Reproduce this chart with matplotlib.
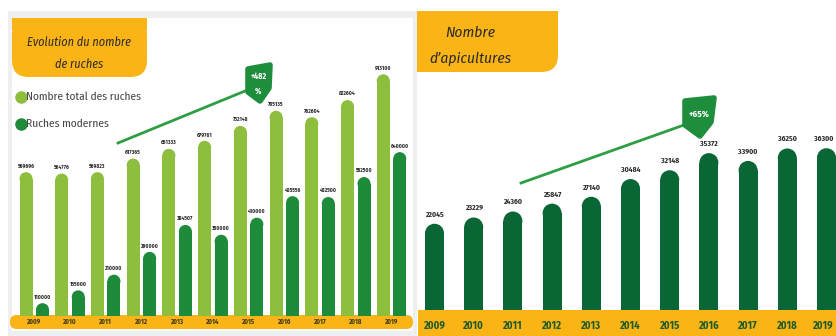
import matplotlib
matplotlib.use("Agg")
import matplotlib.pyplot as plt
from matplotlib.patches import Rectangle, Ellipse, FancyBboxPatch, Polygon
from matplotlib.lines import Line2D
from matplotlib import font_manager as fm
import logging
logging.getLogger('matplotlib.font_manager').setLevel(logging.ERROR)

# ---------------- data ----------------
years = ["2009", "2010", "2011", "2012", "2013", "2014", "2015", "2016", "2017", "2018", "2019"]
ruches_total = [569696, 564776, 569823, 617365, 651333, 679761, 732148, 785135, 762604, 822604, 913100]
ruches_modernes = [110000, 155000, 210000, 290000, 384507, 350000, 410000, 485556, 482500, 552500, 640000]
apicultures = [22045, 23229, 24360, 25847, 27140, 30484, 32148, 35372, 33900, 36250, 36300]
left_title = ["Evolution du nombre", "de ruches"]
right_title = ["Nombre", "d\u2019apicultures"]
legend_labels = ["Nombre total des ruches", "Ruches modernes"]
badge_left = ["+482", "%"]
badge_right = "+65%"

W, H = 836, 336

# ---- choose a narrow font if available ----
avail = {(f.name, f.style) for f in fm.fontManager.ttflist}
names = {n for n, s in avail}
cands = ["Fira Sans Condensed", "PT Sans Narrow", "Archivo Narrow", "Asap Condensed",
         "Roboto Condensed", "Open Sans Condensed", "IBM Plex Sans Condensed",
         "Liberation Sans Narrow", "Roboto"]
FAM = next((c for c in cands if c in names), "DejaVu Sans")
FAM_IT = next((c for c in cands if (c, "italic") in avail), FAM)
plt.rcParams['font.family'] = [FAM, 'DejaVu Sans']

ORANGE = "#FBB416"
LIGHT = "#8DBE3E"
MID = "#1E8B3B"
DARK = "#0B6636"
GRAY = "#EFEFEF"
TXT = "#2b2b2b"

fig = plt.figure(figsize=(W / 100, H / 100), dpi=100)
fig.patch.set_facecolor("white")
renderer = fig.canvas.get_renderer()


def fx(x):
    return x / W


def fy(y):
    return 1 - y / H


def fit(t, target, cap):
    bb = t.get_window_extent(renderer)
    s = min(cap, t.get_fontsize() * target / max(bb.width, 1e-6))
    t.set_fontsize(s)
    return s


def frect(x0, y0, x1, y1, **kw):
    fig.patches.append(Rectangle((fx(x0), fy(y1)), fx(x1 - x0), (y1 - y0) / H,
                                 transform=fig.transFigure, **kw))


def fround(x0, y0, x1, y1, pad, **kw):
    p = FancyBboxPatch((fx(x0), fy(y1)), fx(x1 - x0), (y1 - y0) / H,
                       boxstyle=f"round,pad=0,rounding_size={pad}",
                       mutation_aspect=W / H, transform=fig.transFigure, **kw)
    fig.patches.append(p)


# ---- backgrounds ----
frect(8, 11, 417, 336, facecolor=GRAY, edgecolor="none", zorder=0)
frect(12, 18, 413, 331, facecolor="white", edgecolor="none", zorder=0)

fround(12, 18, 147, 77, 0.02, facecolor=ORANGE, edgecolor="none", zorder=1)
frect(12, 18, 147, 30, facecolor=ORANGE, edgecolor="none", zorder=1)
fround(417, 11, 558, 72, 0.02, facecolor=ORANGE, edgecolor="none", zorder=1)
frect(417, 11, 558, 30, facecolor=ORANGE, edgecolor="none", zorder=1)
frect(417, 11, 440, 72, facecolor=ORANGE, edgecolor="none", zorder=1)

fround(10, 315, 413, 329, 0.008, facecolor=ORANGE, edgecolor="none", zorder=1)
frect(418, 310, 836, 336, facecolor=ORANGE, edgecolor="none", zorder=1)

# ---- titles ----
t1 = fig.text(fx(79), fy(42), left_title[0], ha="center", va="center", fontsize=10,
              style="italic", family=[FAM_IT, 'DejaVu Sans'], color=TXT, zorder=5)
s = fit(t1, 104, 12)
fig.text(fx(79), fy(64), left_title[1], ha="center", va="center", fontsize=s,
         style="italic", family=[FAM_IT, 'DejaVu Sans'], color=TXT, zorder=5)
t2 = fig.text(fx(470), fy(59), right_title[1], ha="center", va="center", fontsize=12,
              style="italic", family=[FAM_IT, 'DejaVu Sans'], color=TXT, zorder=5)
s = fit(t2, 82, 13)
fig.text(fx(470), fy(33), right_title[0], ha="center", va="center", fontsize=s,
         style="italic", family=[FAM_IT, 'DejaVu Sans'], color=TXT, zorder=5)

# ---- legend ----
leg = []
for yy, col, lab in [(97, LIGHT, legend_labels[0]), (124, MID, legend_labels[1])]:
    fig.lines.append(Line2D([fx(21)], [fy(yy)], marker="o", markersize=8, color=col,
                            transform=fig.transFigure, zorder=5))
    leg.append(fig.text(fx(26.5), fy(yy), lab, ha="left", va="center", fontsize=9,
                        color="#444444", zorder=5))
s = fit(leg[0], 116, 11)
leg[1].set_fontsize(s)


# ---------------- helper for rounded bars ----------------
def rounded_bars(ax, xs, vals, width, w_px, px_per_val, color, bottom):
    r = (w_px / 2) / px_per_val
    heights = [v - r - bottom for v in vals]
    ax.bar(xs, heights, width=width, bottom=bottom, color=color, linewidth=0, zorder=2)
    for x, v in zip(xs, vals):
        ax.add_patch(Ellipse((x, v - r), width, 2 * r, facecolor=color, edgecolor="none", zorder=2))


# ---------------- left chart ----------------
L_unit = 35.725
L_a = 0.000285
L_bottom = 65000
axL = fig.add_axes([fx(12), (H - 316) / H, fx(401), (316 - 18) / H])
axL.set_zorder(2)
axL.patch.set_visible(False)
axL.set_xlim(-(34.25 - 12) / L_unit, 10 + (413 - 391.5) / L_unit)
axL.set_ylim(L_bottom, L_bottom + 298 / L_a)
axL.axis("off")
idx = list(range(len(years)))
off = 8.25 / L_unit
wL = 13 / L_unit
xs_t = [i - off for i in idx]
xs_m = [i + off for i in idx]
rounded_bars(axL, xs_t, ruches_total, wL, 13, L_a, LIGHT, L_bottom)
rounded_bars(axL, xs_m, ruches_modernes, wL, 13, L_a, MID, L_bottom)
probe = fig.text(0, 0, str(ruches_total[0]), fontsize=5, fontweight="bold")
sv = fit(probe, 17, 6.5)
probe.remove()
for x, v in zip(xs_t + xs_m, ruches_total + ruches_modernes):
    axL.annotate(str(v), (x, v), xytext=(0, 2.5), textcoords="offset points",
                 ha="center", va="bottom", fontsize=sv,
                 color=TXT, fontweight="bold", zorder=4)
probe = fig.text(0, 0, years[0], fontsize=5, fontweight="bold")
sy = fit(probe, 14, 6.5)
probe.remove()
for i, y in zip(idx, years):
    fig.text(fx(34.25 + L_unit * i), fy(322), y, ha="center", va="center",
             fontsize=sy, color="#3a3a1a", fontweight="bold", zorder=5)

# ---------------- right chart ----------------
R_unit = 39.2
R_a = 0.0053
R_bottom = 5772
axR = fig.add_axes([fx(417), (H - 310) / H, fx(419), (310 - 11) / H])
axR.set_zorder(2)
axR.patch.set_visible(False)
axR.set_xlim(-(434.5 - 417) / R_unit, 10 + (836 - 826.5) / R_unit)
axR.set_ylim(R_bottom, R_bottom + 299 / R_a)
axR.axis("off")
wR = 19 / R_unit
rounded_bars(axR, idx, apicultures, wR, 19, R_a, DARK, R_bottom)
probe = fig.text(0, 0, str(apicultures[0]), fontsize=6, fontweight="bold")
sr = fit(probe, 19, 8)
probe.remove()
for x, v in zip(idx, apicultures):
    xo = min(0, (834 - 10 - (434.5 + R_unit * x)) * 0.75)
    axR.annotate(str(v), (x, v), xytext=(xo, 4), textcoords="offset points",
                 ha="center", va="bottom", fontsize=sr,
                 color=TXT, fontweight="bold", zorder=4)
probe = fig.text(0, 0, years[0], fontsize=9, fontweight="bold")
syr = fit(probe, 22, 11)
probe.remove()
for i, y in zip(idx, years):
    xx = min(434.5 + R_unit * i, 823)
    fig.text(fx(xx), fy(326), y, ha="center", va="center",
             fontsize=syr, color="#1d5a26", fontweight="bold", zorder=5)

# ---- trend lines + badges ----
fig.lines.append(Line2D([fx(118), fx(245)], [fy(143), fy(91)], color="#2E9E45", lw=2,
                        transform=fig.transFigure, zorder=6))
badge = Polygon([(fx(248), fy(69)), (fx(270), fy(65)), (fx(269), fy(88)),
                 (fx(260), fy(101)), (fx(248), fy(92))], closed=True,
                facecolor="#1F8E3C", edgecolor="#1F8E3C", lw=4, joinstyle="round",
                transform=fig.transFigure, zorder=6)
fig.patches.append(badge)
b1 = fig.text(fx(258.5), fy(76), badge_left[0], ha="center", va="center", fontsize=7,
              color="white", fontweight="bold", zorder=7)
sb = fit(b1, 16, 9)
fig.text(fx(258), fy(91), badge_left[1], ha="center", va="center", fontsize=sb,
         color="white", fontweight="bold", zorder=7)

fig.lines.append(Line2D([fx(521), fx(684)], [fy(183), fy(125)], color="#2E9E45", lw=2,
                        transform=fig.transFigure, zorder=6))
badge2 = Polygon([(fx(685), fy(101)), (fx(714), fy(98)), (fx(711), fy(122)),
                  (fx(700), fy(136)), (fx(685), fy(125))], closed=True,
                 facecolor="#1F8E3C", edgecolor="#1F8E3C", lw=4, joinstyle="round",
                 transform=fig.transFigure, zorder=6)
fig.patches.append(badge2)
b2 = fig.text(fx(699), fy(114), badge_right, ha="center", va="center", fontsize=8,
              color="white", fontweight="bold", zorder=7)
fit(b2, 21, 10)

fig.savefig("out.png", dpi=100)
